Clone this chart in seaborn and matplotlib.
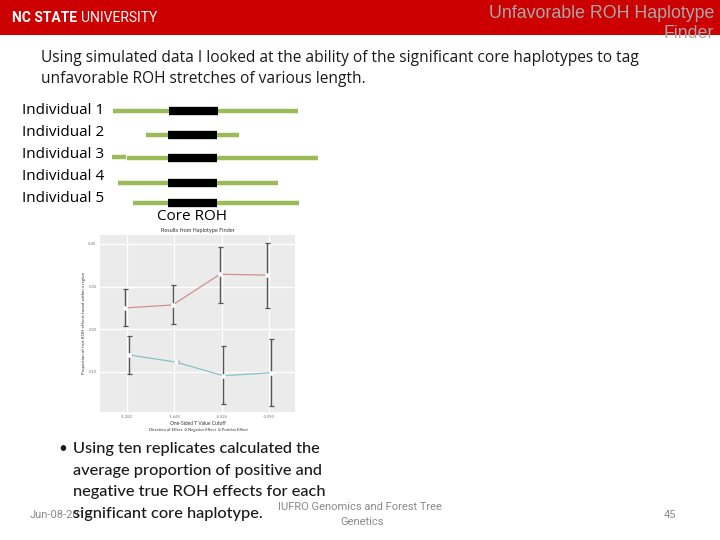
import matplotlib
matplotlib.use("Agg")
import matplotlib.pyplot as plt
import seaborn as sns
import pandas as pd
import numpy as np
from matplotlib.patches import Rectangle

# ---------------- data ----------------
individuals = ["Individual 1", "Individual 2", "Individual 3", "Individual 4", "Individual 5"]
green_start = [113, 146, 127, 118, 133]
green_end = [298, 239, 318, 278, 299]
core_start = [169, 168, 168, 168, 168]
core_end = [218, 217, 217, 217, 217]

cutoffs = ["-1.282", "-1.645", "-2.326", "-3.090"]
effects = ["Negative Effect", "Positive Effect"]
neg_mean = [0.250, 0.257, 0.329, 0.327]
neg_lo = [0.208, 0.212, 0.262, 0.250]
neg_hi = [0.294, 0.304, 0.393, 0.402]
pos_mean = [0.140, 0.123, 0.091, 0.098]
pos_lo = [0.095, 0.121, 0.025, 0.020]
pos_hi = [0.184, 0.125, 0.161, 0.177]
y_ticks = [0.10, 0.20, 0.30, 0.40]

W, H = 720, 540
sns.set_theme(style="darkgrid")
plt.rcParams["font.family"] = ["Lato", "DejaVu Sans"]

fig = plt.figure(figsize=(7.2, 5.4), dpi=100)
fig.patch.set_facecolor("white")


def fx(px):
    return px / W


def fy(py):
    return 1 - py / H


# header band
fig.patches.append(Rectangle((0, fy(35)), 1, 35 / H, transform=fig.transFigure,
                             facecolor="#CC0000", edgecolor="none", zorder=0))
fig.text(fx(12), fy(18), "NC STATE", color="white", fontsize=10, fontweight="bold",
         family=["Roboto", "DejaVu Sans"], va="center", ha="left")
fig.text(fx(81), fy(18), "UNIVERSITY", color="white", fontsize=10,
         family=["Roboto", "DejaVu Sans"], va="center", ha="left")
fig.text(fx(714), fy(13), "Unfavorable ROH Haplotype", color="#A8A8A8", fontsize=12.8,
         family=["Liberation Sans", "DejaVu Sans"], ha="right", va="center")
fig.text(fx(714), fy(34), "Finder", color="#A8A8A8", fontsize=12.8,
         family=["Liberation Sans", "DejaVu Sans"], ha="right", va="center")

# subtitle
fig.text(fx(41), fy(58), "Using simulated data I looked at the ability of the significant core haplotypes to tag",
         fontsize=11.2, color="#1a1a1a", va="center", ha="left", family=["Open Sans", "DejaVu Sans"])
fig.text(fx(41), fy(79), "unfavorable ROH stretches of various length.",
         fontsize=11.2, color="#1a1a1a", va="center", ha="left", family=["Open Sans", "DejaVu Sans"])

# ---------------- diagram ----------------
axd = fig.add_axes([fx(100), fy(212), fx(240), (212 - 100) / H])
axd.set_xlim(100, 340)
axd.set_ylim(212, 100)
axd.axis("off")
row_y = [111, 135, 158, 183, 203]
label_y = [111, 133, 155, 177, 199]
for i, name in enumerate(individuals):
    axd.hlines(row_y[i], green_start[i], green_end[i], color="#9BBB59", lw=3.2, zorder=1)
    axd.hlines(row_y[i], core_start[i], core_end[i], color="black", lw=6, zorder=2)
    fig.text(fx(22), fy(label_y[i]), name, fontsize=11, color="black", va="center", ha="left",
             family=["Open Sans", "DejaVu Sans"])
# small extra segment for individual 3
axd.hlines(157, 112, 126, color="#9BBB59", lw=3.2)
fig.text(fx(192), fy(217), "Core ROH", fontsize=11, color="black", ha="center", va="center",
         family=["Open Sans", "DejaVu Sans"])

# ---------------- chart ----------------
ax = fig.add_axes([fx(100), fy(412), fx(195), (412 - 235) / H])
ax.set_facecolor("#EBEBEB")
rows = []
for i, c in enumerate(cutoffs):
    rows.append({"x": i - 0.035, "cut": c, "effect": effects[0], "mean": neg_mean[i], "lo": neg_lo[i], "hi": neg_hi[i]})
    rows.append({"x": i + 0.035, "cut": c, "effect": effects[1], "mean": pos_mean[i], "lo": pos_lo[i], "hi": pos_hi[i]})
df = pd.DataFrame(rows)
pal = {effects[0]: "#CF8F8F", effects[1]: "#86C3C7"}
sns.lineplot(data=df, x="x", y="mean", hue="effect", palette=pal, ax=ax, lw=0.9,
             legend=False, marker="o", markersize=2.5, markerfacecolor="white",
             markeredgecolor="white", zorder=3)
for eff in effects:
    sub = df[df["effect"] == eff]
    ax.errorbar(sub["x"], sub["mean"], yerr=[sub["mean"] - sub["lo"], sub["hi"] - sub["mean"]],
                fmt="none", ecolor="#555555", elinewidth=1.0, capsize=1.8, capthick=0.9, zorder=2)
ax.set_xlim(-0.57, 3.55)
ax.set_ylim(0.006, 0.421)
ax.set_xticks(range(len(cutoffs)))
ax.set_xticklabels(cutoffs)
ax.set_yticks(y_ticks)
ax.set_yticklabels([f"{v:.2f}" for v in y_ticks])
ax.tick_params(labelsize=3, colors="#777777", length=1.5, pad=1)
ax.grid(True, color="white", lw=1.0)
ax.minorticks_off()
for s in ax.spines.values():
    s.set_visible(False)
ax.set_xlabel("One-Sided T Value Cutoff", fontsize=3.5, color="#333333", labelpad=1)
ax.set_ylabel("Proportion of true ROH effects found within a region", fontsize=3.2, color="#333333", labelpad=2)
ax.set_title("Results from Haplotype Finder", fontsize=4, color="#333333", pad=2)
fig.text(fx(198), fy(430), "Direction of Effect  \u25cb Negative Effect  \u25cb Positive Effect",
         fontsize=3, color="#333333", ha="center", va="center")

# ---------------- bullet text ----------------
bfam = ["Lato", "DejaVu Sans"]
fig.text(fx(58), fy(449), "\u2022", fontsize=11, color="#1a1a1a", va="center", ha="left")
blines = ["Using ten replicates calculated the", "average proportion of positive and",
          "negative true ROH effects for each", "significant core haplotype."]
for i, t in enumerate(blines):
    fig.text(fx(73), fy(449 + i * 21.7), t, fontsize=11.8, color="#1a1a1a", va="center", ha="left",
             family=bfam, fontweight="medium", zorder=3)

# footer
fig.text(fx(30), fy(515), "Jun-08-2016", fontsize=8, color="#8A8A8A", va="center", ha="left",
         family=["Roboto", "DejaVu Sans"], zorder=1)
fig.text(fx(360), fy(507), "IUFRO Genomics and Forest Tree", fontsize=8, color="#8A8A8A",
         va="center", ha="center", family=["Roboto", "DejaVu Sans"])
fig.text(fx(362), fy(522), "Genetics", fontsize=8, color="#8A8A8A",
         va="center", ha="center", family=["Roboto", "DejaVu Sans"])
fig.text(fx(670), fy(515), "45", fontsize=8, color="#8A8A8A", va="center", ha="center",
         family=["Roboto", "DejaVu Sans"])

fig.savefig("out.png", dpi=100)
